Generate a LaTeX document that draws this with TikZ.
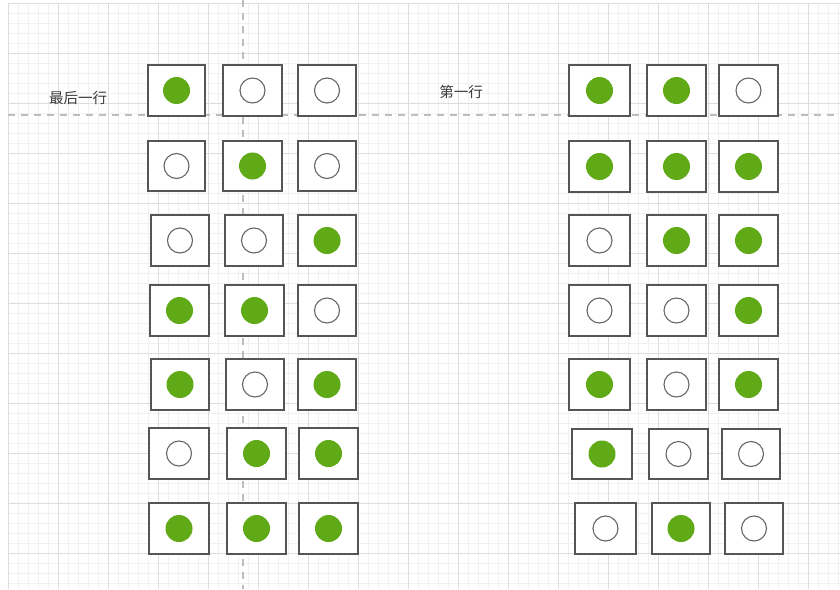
\documentclass[tikz,border=0pt]{standalone}
\usepackage{fontspec}
\newfontfamily\cjk{Noto Sans CJK SC}
\definecolor{dotgreen}{HTML}{60A917}
\definecolor{boxc}{HTML}{555555}
\definecolor{ringc}{HTML}{666666}
\definecolor{minorc}{HTML}{F1F1F1}
\definecolor{majorc}{HTML}{DDDDDD}
\definecolor{guidec}{HTML}{BDBDBD}
\definecolor{txtc}{HTML}{3A3A3A}
\begin{document}
\begin{tikzpicture}[x=1pt,y=-1pt,
  minorline/.style={draw=minorc, line width=0.8pt},
  majorline/.style={draw=majorc, line width=1pt},
  guide/.style={draw=guidec, line width=1.6pt, dash pattern=on 7pt off 6pt},
  box/.style={draw=boxc, line width=1.2pt, fill=white, inner sep=0pt},
  fullc/.style={circle, fill=dotgreen, minimum size=27pt, inner sep=0pt},
  emptyc/.style={circle, draw=ringc, line width=1.1pt, fill=white, minimum size=25pt, inner sep=0pt},
  lbl/.style={font=\cjk\fontsize{14.5}{16}\selectfont, text=txtc, inner sep=0pt}]
\useasboundingbox (0,0) rectangle (840,589);
\fill[white] (0,0) rectangle (840,589);
% grid
\foreach \x in {8,18,...,838} \draw[minorline] (\x,3) -- (\x,589);
\foreach \y in {3,13,...,589} \draw[minorline] (8,\y) -- (840,\y);
\foreach \x in {8,58,...,808} \draw[majorline] (\x,3) -- (\x,589);
\foreach \y in {3,53,...,553} \draw[majorline] (8,\y) -- (840,\y);
% guide lines
\coordinate (hA) at (8,115);
\coordinate (hB) at (840,115);
\coordinate (vA) at (243,0);
\coordinate (vB) at (243,589);
\draw[guide] (hA) -- (hB);
\draw[guide] (vA) -- (vB);
% labels
\node[lbl] (lastrow) at (78,98) {最后一行};
\node[lbl] (firstrow) at (461,92) {第一行};
% boxes
\foreach \n/\xa/\ya/\xb/\yb/\s in {
  L1a/148/65/205/116/fullc, L1b/223/65/282/116/emptyc, L1c/298/65/356/116/emptyc,
  L2a/148/141/205/191/emptyc, L2b/223/141/282/191/fullc, L2c/298/141/356/191/emptyc,
  L3a/151/215/209/266/emptyc, L3b/225/215/283/266/emptyc, L3c/298/215/356/266/fullc,
  L4a/150/285/209/336/fullc, L4b/225/285/284/336/fullc, L4c/298/285/356/336/emptyc,
  L5a/151/359/209/410/fullc, L5b/226/359/284/410/emptyc, L5c/298/359/356/410/fullc,
  L6a/149/428/209/479/emptyc, L6b/227/428/286/479/fullc, L6c/299/428/358/479/fullc,
  L7a/149/503/209/554/fullc, L7b/227/503/286/554/fullc, L7c/299/503/358/554/fullc,
  R1a/569/65/630/116/fullc, R1b/647/65/706/116/fullc, R1c/719/65/778/116/emptyc,
  R2a/569/141/630/192/fullc, R2b/647/141/706/192/fullc, R2c/719/141/778/192/fullc,
  R3a/569/215/630/266/emptyc, R3b/647/215/706/266/fullc, R3c/719/215/778/266/fullc,
  R4a/569/285/630/336/emptyc, R4b/647/285/706/336/emptyc, R4c/719/285/778/336/fullc,
  R5a/569/359/630/410/fullc, R5b/647/359/706/410/emptyc, R5c/719/359/778/410/fullc,
  R6a/572/429/632/479/fullc, R6b/649/429/708/479/emptyc, R6c/722/429/780/479/emptyc,
  R7a/575/503/636/554/emptyc, R7b/652/503/710/554/fullc, R7c/725/503/783/554/emptyc}
{
  \node[box, minimum width={\xb pt-\xa pt}, minimum height={\yb pt-\ya pt}]
    (\n) at ({(\xa+\xb)/2},{(\ya+\yb)/2}) {};
  \node[\s] (\n-dot) at (\n.center) {};
}
\end{tikzpicture}
\end{document}
